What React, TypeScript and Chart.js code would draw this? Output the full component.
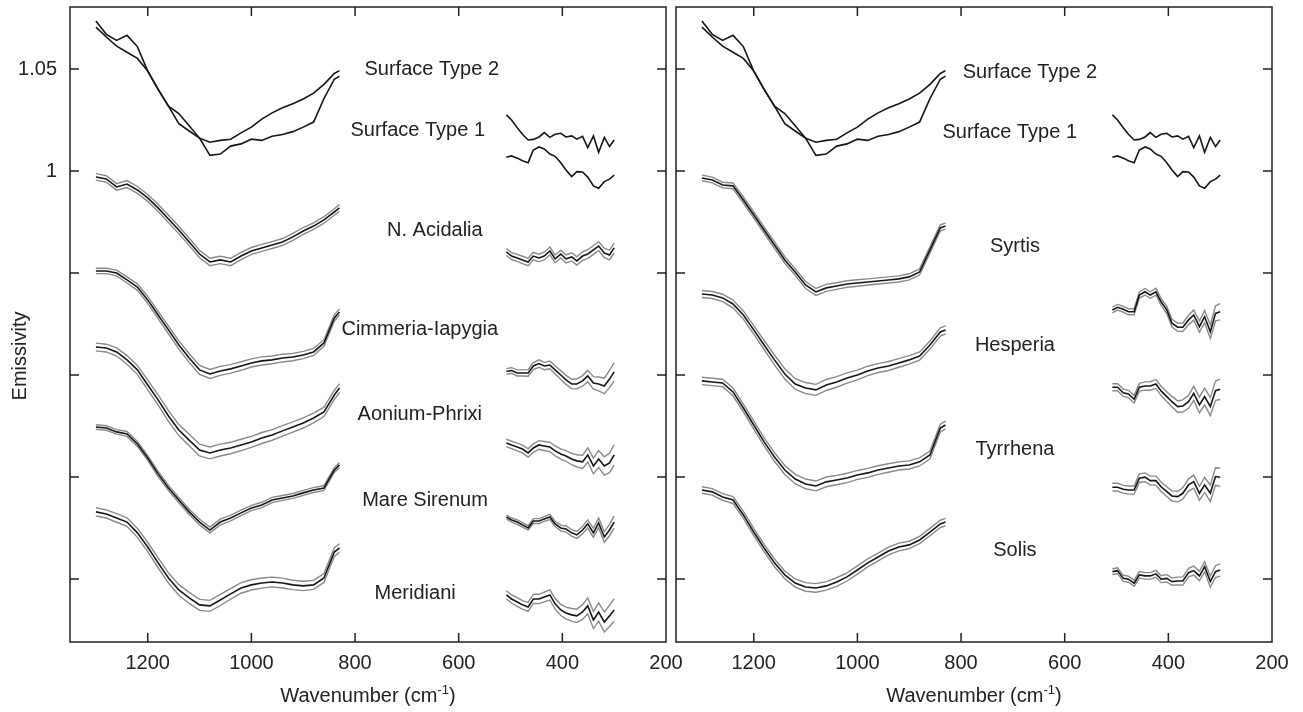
import React, { useEffect, useRef } from "react";
import { Chart, registerables } from "chart.js";

Chart.register(...registerables);

const FONT = '"Liberation Sans", Arial, Helvetica, sans-serif';

// ---- grids (wavenumber, cm-1) ----
const HIGH_WN = [1300, 1280, 1260, 1240, 1220, 1200, 1180, 1160, 1140, 1120, 1100, 1080, 1060, 1040, 1020, 1000, 980, 960, 940, 920, 900, 880, 860, 840, 830];
const LOW_WN = [508, 498, 487, 477, 466, 456, 445, 435, 424, 414, 403, 393, 382, 372, 361, 351, 340, 330, 319, 309, 300];
const GAP_WN = 660;

// ---- axis ticks ----
const X_TICKS = [1200, 1000, 800, 600, 400, 200];
const Y_TICKS = [1.05, 1.0, 0.95, 0.9, 0.85, 0.8];
const Y_TICK_LABELS = ["1.05", "1", "", "", "", ""];
const X_MIN = 200;
const X_MAX = 1350;
const Y_MIN = 0.7691;
const Y_MAX = 1.0804;

// ---- surface types (single spectra) ----
const st2High = [1.0705, 1.0657, 1.0612, 1.0582, 1.0552, 1.049, 1.04, 1.0318, 1.0282, 1.0222, 1.0161, 1.0141, 1.015, 1.0156, 1.0187, 1.0215, 1.0254, 1.0285, 1.031, 1.033, 1.0353, 1.0382, 1.0425, 1.0478, 1.0492];
const st2Low = [1.0275, 1.025, 1.0212, 1.018, 1.0152, 1.0155, 1.0167, 1.0188, 1.0165, 1.018, 1.0185, 1.0167, 1.0172, 1.0156, 1.017, 1.0115, 1.0172, 1.0092, 1.0165, 1.012, 1.0152];
const st1High = [1.0735, 1.067, 1.064, 1.0665, 1.061, 1.049, 1.04, 1.0318, 1.0232, 1.0196, 1.0161, 1.0077, 1.0083, 1.0122, 1.0133, 1.0156, 1.015, 1.017, 1.0179, 1.0193, 1.0215, 1.024, 1.0355, 1.045, 1.0465];
const st1Low = [1.0067, 1.0074, 1.0063, 1.005, 1.0041, 1.0103, 1.0118, 1.0108, 1.0083, 1.0072, 1.004, 1.0005, 0.9973, 0.9997, 0.9995, 0.997, 0.9927, 0.9915, 0.9948, 0.996, 0.998];

// ---- left panel regions: mean spectra and 1-sigma ----
const acidaliaHigh = [0.9971, 0.9961, 0.9922, 0.9936, 0.9907, 0.9868, 0.9819, 0.9765, 0.9711, 0.9652, 0.9593, 0.9554, 0.9564, 0.9554, 0.9583, 0.9608, 0.9623, 0.9637, 0.9652, 0.9677, 0.9706, 0.973, 0.976, 0.9799, 0.9819];
const acidaliaLow = [0.9603, 0.9583, 0.9574, 0.9564, 0.9554, 0.9583, 0.9574, 0.9583, 0.9608, 0.9569, 0.9593, 0.9569, 0.9579, 0.9559, 0.9583, 0.9593, 0.9613, 0.9632, 0.9598, 0.9588, 0.9623];
const acidaliaSdHigh = [0.0016, 0.0016, 0.0016, 0.0017, 0.0017, 0.0017, 0.0018, 0.0018, 0.0018, 0.0018, 0.0018, 0.0018, 0.0018, 0.0018, 0.0018, 0.0017, 0.0017, 0.0017, 0.0017, 0.0017, 0.0017, 0.0016, 0.0016, 0.0016, 0.0016];
const acidaliaSdLow = [0.0017, 0.0017, 0.0017, 0.0018, 0.0018, 0.0018, 0.0018, 0.0019, 0.0019, 0.0019, 0.0019, 0.002, 0.002, 0.002, 0.0021, 0.0021, 0.0022, 0.0022, 0.0023, 0.0024, 0.0024];

const cimmeriaHigh = [0.951, 0.951, 0.95, 0.9466, 0.9431, 0.9368, 0.9294, 0.9221, 0.9147, 0.9083, 0.9025, 0.9005, 0.902, 0.903, 0.9044, 0.9059, 0.9069, 0.9074, 0.9083, 0.9088, 0.9098, 0.9113, 0.9157, 0.928, 0.9309];
const cimmeriaLow = [0.9017, 0.9022, 0.901, 0.901, 0.901, 0.9044, 0.9056, 0.9044, 0.9049, 0.9025, 0.9, 0.8976, 0.8956, 0.8956, 0.8971, 0.8995, 0.8961, 0.8956, 0.8946, 0.898, 0.9015];
const cimmeriaSdHigh = [0.0013, 0.0013, 0.0014, 0.0015, 0.0016, 0.0017, 0.0018, 0.0019, 0.002, 0.0021, 0.0022, 0.0022, 0.0022, 0.0021, 0.0021, 0.002, 0.002, 0.0019, 0.0019, 0.0018, 0.0018, 0.0017, 0.0016, 0.0015, 0.0015];
const cimmeriaSdLow = [0.0014, 0.0014, 0.0015, 0.0015, 0.0016, 0.0017, 0.0018, 0.0018, 0.0019, 0.002, 0.0021, 0.0022, 0.0023, 0.0024, 0.0026, 0.0028, 0.0031, 0.0034, 0.0038, 0.0042, 0.0045];

const aoniumHigh = [0.9137, 0.9132, 0.9113, 0.9074, 0.9025, 0.8951, 0.8878, 0.8799, 0.873, 0.8681, 0.8632, 0.8618, 0.8632, 0.8642, 0.8657, 0.8672, 0.8691, 0.8706, 0.8726, 0.8745, 0.8765, 0.8789, 0.8819, 0.8902, 0.8936];
const aoniumLow = [0.8667, 0.8657, 0.8647, 0.8637, 0.8618, 0.8642, 0.8657, 0.8652, 0.8647, 0.8628, 0.8613, 0.8603, 0.8588, 0.8579, 0.8574, 0.8608, 0.8554, 0.8588, 0.8554, 0.8569, 0.8608];
const aoniumSdHigh = [0.0019, 0.0019, 0.002, 0.0021, 0.0022, 0.0024, 0.0025, 0.0026, 0.0027, 0.0028, 0.0029, 0.0029, 0.0029, 0.0028, 0.0028, 0.0027, 0.0027, 0.0026, 0.0026, 0.0025, 0.0025, 0.0024, 0.0023, 0.0022, 0.0022];
const aoniumSdLow = [0.0018, 0.0018, 0.0019, 0.0019, 0.002, 0.0021, 0.0021, 0.0022, 0.0023, 0.0024, 0.0025, 0.0026, 0.0028, 0.003, 0.0032, 0.0035, 0.0038, 0.0041, 0.0045, 0.0048, 0.005];

const sirenumHigh = [0.8745, 0.874, 0.8721, 0.8711, 0.8662, 0.8593, 0.8515, 0.8446, 0.8387, 0.8329, 0.8279, 0.824, 0.8279, 0.8299, 0.8324, 0.8348, 0.8363, 0.8387, 0.8397, 0.8407, 0.8422, 0.8436, 0.8446, 0.8534, 0.8559];
const sirenumLow = [0.8304, 0.8289, 0.8279, 0.8265, 0.825, 0.8284, 0.8284, 0.8294, 0.8304, 0.827, 0.825, 0.8245, 0.8226, 0.8216, 0.824, 0.827, 0.8226, 0.8275, 0.8206, 0.824, 0.8279];
const sirenumSdHigh = [0.0011, 0.0011, 0.0011, 0.0012, 0.0012, 0.0012, 0.0013, 0.0013, 0.0013, 0.0013, 0.0014, 0.0014, 0.0014, 0.0014, 0.0013, 0.0013, 0.0013, 0.0013, 0.0012, 0.0012, 0.0012, 0.0012, 0.0012, 0.0012, 0.0012];
const sirenumSdLow = [0.001, 0.001, 0.0011, 0.0011, 0.0011, 0.0012, 0.0012, 0.0012, 0.0013, 0.0013, 0.0014, 0.0015, 0.0016, 0.0017, 0.0018, 0.002, 0.0022, 0.0024, 0.0026, 0.0028, 0.003];

const meridianiHigh = [0.8329, 0.8319, 0.8299, 0.8279, 0.8226, 0.8157, 0.8079, 0.8005, 0.7946, 0.7907, 0.7873, 0.7868, 0.7897, 0.7927, 0.7956, 0.7971, 0.798, 0.7985, 0.798, 0.7971, 0.7966, 0.7971, 0.8005, 0.8132, 0.8152];
const meridianiLow = [0.7922, 0.7902, 0.7887, 0.7873, 0.7863, 0.7902, 0.7902, 0.7912, 0.7922, 0.7878, 0.7848, 0.7833, 0.7824, 0.7819, 0.7838, 0.7868, 0.7799, 0.7838, 0.7789, 0.7819, 0.7848];
const meridianiSdHigh = [0.002, 0.002, 0.0021, 0.0021, 0.0022, 0.0023, 0.0024, 0.0025, 0.0026, 0.0027, 0.0027, 0.0027, 0.0027, 0.0026, 0.0026, 0.0025, 0.0025, 0.0024, 0.0024, 0.0023, 0.0023, 0.0022, 0.0022, 0.0021, 0.0021];
const meridianiSdLow = [0.002, 0.002, 0.0021, 0.0021, 0.0022, 0.0022, 0.0023, 0.0024, 0.0025, 0.0026, 0.0027, 0.0029, 0.0031, 0.0033, 0.0036, 0.0039, 0.0042, 0.0045, 0.0049, 0.0052, 0.0055];

// ---- right panel regions ----
const syrtisHigh = [0.9966, 0.9956, 0.9931, 0.9927, 0.9858, 0.9784, 0.9711, 0.9637, 0.9564, 0.9505, 0.9441, 0.9407, 0.9427, 0.9436, 0.9446, 0.9451, 0.9456, 0.9461, 0.9466, 0.9471, 0.9481, 0.9505, 0.9613, 0.9721, 0.973];
const syrtisLow = [0.9319, 0.9332, 0.9322, 0.931, 0.931, 0.9392, 0.9408, 0.9392, 0.9408, 0.9359, 0.9319, 0.9254, 0.9234, 0.9234, 0.927, 0.9294, 0.9237, 0.9286, 0.9212, 0.9302, 0.931];
const syrtisSdHigh = [0.0014, 0.0014, 0.0014, 0.0014, 0.0015, 0.0015, 0.0015, 0.0016, 0.0016, 0.0016, 0.0017, 0.0017, 0.0017, 0.0016, 0.0016, 0.0016, 0.0015, 0.0015, 0.0015, 0.0015, 0.0015, 0.0015, 0.0015, 0.0015, 0.0015];
const syrtisSdLow = [0.0014, 0.0014, 0.0014, 0.0015, 0.0015, 0.0015, 0.0016, 0.0016, 0.0017, 0.0017, 0.0018, 0.0019, 0.002, 0.0021, 0.0023, 0.0025, 0.0027, 0.003, 0.0033, 0.0037, 0.004];

const hesperiaHigh = [0.9397, 0.9392, 0.9378, 0.9348, 0.9294, 0.9221, 0.9147, 0.9074, 0.9005, 0.8956, 0.8936, 0.8927, 0.8951, 0.8966, 0.8985, 0.9, 0.902, 0.9034, 0.9044, 0.9059, 0.9074, 0.9093, 0.9147, 0.9211, 0.9221];
const hesperiaLow = [0.894, 0.894, 0.8913, 0.8907, 0.8881, 0.894, 0.8946, 0.8946, 0.8956, 0.8922, 0.8894, 0.8869, 0.8845, 0.8848, 0.8869, 0.891, 0.8853, 0.8894, 0.8845, 0.8923, 0.893];
const hesperiaSdHigh = [0.0017, 0.0017, 0.0018, 0.0019, 0.002, 0.0021, 0.0022, 0.0024, 0.0025, 0.0026, 0.0027, 0.0027, 0.0027, 0.0026, 0.0025, 0.0024, 0.0023, 0.0022, 0.0022, 0.0021, 0.0021, 0.002, 0.002, 0.002, 0.002];
const hesperiaSdLow = [0.0017, 0.0017, 0.0018, 0.0018, 0.0019, 0.0019, 0.002, 0.0021, 0.0022, 0.0023, 0.0024, 0.0026, 0.0028, 0.003, 0.0032, 0.0035, 0.0038, 0.0041, 0.0044, 0.0047, 0.005];

const tyrrhenaHigh = [0.8971, 0.8966, 0.8961, 0.8917, 0.8838, 0.8755, 0.8672, 0.8598, 0.8534, 0.849, 0.8466, 0.8456, 0.8476, 0.8485, 0.8495, 0.851, 0.852, 0.8534, 0.8544, 0.8554, 0.8559, 0.8574, 0.8608, 0.874, 0.8755];
const tyrrhenaLow = [0.845, 0.845, 0.844, 0.8436, 0.8436, 0.8494, 0.8499, 0.8482, 0.8482, 0.8452, 0.8428, 0.8407, 0.8404, 0.842, 0.8461, 0.8477, 0.842, 0.8461, 0.842, 0.8502, 0.8499];
const tyrrhenaSdHigh = [0.0018, 0.0018, 0.0018, 0.0019, 0.0019, 0.002, 0.002, 0.0021, 0.0022, 0.0023, 0.0024, 0.0024, 0.0024, 0.0023, 0.0023, 0.0022, 0.0022, 0.0021, 0.0021, 0.002, 0.002, 0.002, 0.0019, 0.0019, 0.0019];
const tyrrhenaSdLow = [0.0019, 0.0019, 0.0019, 0.002, 0.002, 0.0021, 0.0021, 0.0022, 0.0022, 0.0023, 0.0024, 0.0025, 0.0026, 0.0028, 0.003, 0.0032, 0.0034, 0.0037, 0.004, 0.0043, 0.0045];

const solisHigh = [0.8436, 0.8427, 0.8402, 0.8387, 0.8314, 0.823, 0.8152, 0.8079, 0.802, 0.798, 0.7961, 0.7956, 0.7966, 0.7985, 0.801, 0.8044, 0.8079, 0.8108, 0.8137, 0.8157, 0.8167, 0.8191, 0.823, 0.827, 0.8279];
const solisLow = [0.8036, 0.8041, 0.8003, 0.7999, 0.7979, 0.802, 0.8015, 0.8015, 0.8025, 0.7999, 0.8003, 0.7987, 0.799, 0.799, 0.8031, 0.8041, 0.8015, 0.806, 0.7987, 0.8036, 0.8044];
const solisSdHigh = [0.0016, 0.0016, 0.0016, 0.0017, 0.0017, 0.0018, 0.0018, 0.0019, 0.0019, 0.002, 0.0021, 0.0021, 0.0021, 0.0021, 0.002, 0.002, 0.002, 0.0019, 0.0019, 0.0019, 0.0018, 0.0018, 0.0018, 0.0018, 0.0018];
const solisSdLow = [0.0014, 0.0014, 0.0015, 0.0015, 0.0015, 0.0016, 0.0016, 0.0016, 0.0017, 0.0017, 0.0018, 0.0018, 0.0019, 0.002, 0.0021, 0.0022, 0.0023, 0.0025, 0.0027, 0.0029, 0.003];

// ---- annotation text ----
const SURFACE_NAMES = ["Surface Type 2", "Surface Type 1"];
const LEFT_NAMES = ["N. Acidalia", "Cimmeria-Iapygia", "Aonium-Phrixi", "Mare Sirenum", "Meridiani"];
const RIGHT_NAMES = ["Syrtis", "Hesperia", "Tyrrhena", "Solis"];

// label anchor points in data coordinates (wavenumber, emissivity)
const LEFT_LABEL_WN = [652, 679, 646, 675, 675, 665, 684];
const LEFT_LABEL_E = [1.05, 1.0201, 0.9706, 0.9221, 0.8804, 0.8387, 0.7931];
const RIGHT_LABEL_WN = [667, 706, 696, 696, 696, 696];
const RIGHT_LABEL_E = [1.0485, 1.0191, 0.9632, 0.9147, 0.8637, 0.8142];

type Region = { high: number[]; low: number[]; sdHigh: number[]; sdLow: number[] };

const LEFT_REGIONS: Region[] = [
  { high: acidaliaHigh, low: acidaliaLow, sdHigh: acidaliaSdHigh, sdLow: acidaliaSdLow },
  { high: cimmeriaHigh, low: cimmeriaLow, sdHigh: cimmeriaSdHigh, sdLow: cimmeriaSdLow },
  { high: aoniumHigh, low: aoniumLow, sdHigh: aoniumSdHigh, sdLow: aoniumSdLow },
  { high: sirenumHigh, low: sirenumLow, sdHigh: sirenumSdHigh, sdLow: sirenumSdLow },
  { high: meridianiHigh, low: meridianiLow, sdHigh: meridianiSdHigh, sdLow: meridianiSdLow },
];
const RIGHT_REGIONS: Region[] = [
  { high: syrtisHigh, low: syrtisLow, sdHigh: syrtisSdHigh, sdLow: syrtisSdLow },
  { high: hesperiaHigh, low: hesperiaLow, sdHigh: hesperiaSdHigh, sdLow: hesperiaSdLow },
  { high: tyrrhenaHigh, low: tyrrhenaLow, sdHigh: tyrrhenaSdHigh, sdLow: tyrrhenaSdLow },
  { high: solisHigh, low: solisLow, sdHigh: solisSdHigh, sdLow: solisSdLow },
];

const BLACK = "#161616";
const GRAY = "#8a8a8a";
const AXIS = "#222222";

function points(high: number[], low: number[], sdH: number[] | null, sdL: number[] | null, sign: number) {
  const pts: { x: number; y: number | null }[] = [];
  HIGH_WN.forEach((x, i) => pts.push({ x, y: high[i] + (sdH ? sign * sdH[i] : 0) }));
  pts.push({ x: GAP_WN, y: null });
  LOW_WN.forEach((x, i) => pts.push({ x, y: low[i] + (sdL ? sign * sdL[i] : 0) }));
  return pts;
}

function buildDatasets(regions: Region[]) {
  const ds: any[] = [];
  const base = { showLine: true, pointRadius: 0, spanGaps: false, tension: 0, fill: false };
  ds.push({ ...base, data: points(st2High, st2Low, null, null, 0), borderColor: BLACK, borderWidth: 1.6, order: 0 });
  ds.push({ ...base, data: points(st1High, st1Low, null, null, 0), borderColor: BLACK, borderWidth: 1.6, order: 0 });
  regions.forEach((r) => {
    ds.push({ ...base, data: points(r.high, r.low, null, null, 0), borderColor: BLACK, borderWidth: 1.6, order: 0 });
    ds.push({ ...base, data: points(r.high, r.low, r.sdHigh, r.sdLow, 1), borderColor: GRAY, borderWidth: 1.4, order: 1 });
    ds.push({ ...base, data: points(r.high, r.low, r.sdHigh, r.sdLow, -1), borderColor: GRAY, borderWidth: 1.4, order: 1 });
  });
  return ds;
}

const framePlugin = {
  id: "frame",
  afterDatasetsDraw(chart: any, _args: any, opts: any) {
    const { ctx, chartArea } = chart;
    const { left, right, top, bottom } = chartArea;
    const xs = chart.scales.x;
    const ys = chart.scales.y;
    ctx.save();
    ctx.strokeStyle = AXIS;
    ctx.lineWidth = 1.5;
    ctx.strokeRect(left, top, right - left, bottom - top);
    const TL = 9;
    ctx.beginPath();
    X_TICKS.forEach((v) => {
      const px = xs.getPixelForValue(v);
      if (px <= left + 1 || px >= right - 1) return;
      ctx.moveTo(px, bottom);
      ctx.lineTo(px, bottom - TL);
      ctx.moveTo(px, top);
      ctx.lineTo(px, top + TL);
    });
    Y_TICKS.forEach((v) => {
      const py = ys.getPixelForValue(v);
      ctx.moveTo(left, py);
      ctx.lineTo(left + TL, py);
      ctx.moveTo(right, py);
      ctx.lineTo(right - TL, py);
    });
    ctx.stroke();

    // curve labels
    ctx.fillStyle = AXIS;
    ctx.font = `20px ${FONT}`;
    ctx.textAlign = "center";
    ctx.textBaseline = "middle";
    const names: string[] = opts.names || [];
    const wn: number[] = opts.labelWn || [];
    const em: number[] = opts.labelE || [];
    names.forEach((n, i) => {
      ctx.fillText(n, xs.getPixelForValue(wn[i]), ys.getPixelForValue(em[i]));
    });

    // x title with superscript
    const cx = (left + right) / 2;
    const ty = 695;
    const main = "Wavenumber (cm";
    const sup = "-1";
    const close = ")";
    ctx.font = `20px ${FONT}`;
    const w1 = ctx.measureText(main).width;
    const w3 = ctx.measureText(close).width;
    ctx.font = `13px ${FONT}`;
    const w2 = ctx.measureText(sup).width;
    const total = w1 + w2 + w3;
    const x0 = cx - total / 2;
    ctx.textAlign = "left";
    ctx.textBaseline = "alphabetic";
    ctx.font = `20px ${FONT}`;
    ctx.fillText(main, x0, ty + 7);
    ctx.font = `13px ${FONT}`;
    ctx.fillText(sup, x0 + w1, ty - 1);
    ctx.font = `20px ${FONT}`;
    ctx.fillText(close, x0 + w1 + w2, ty + 7);

    if (opts.yTitle) {
      ctx.translate(20, 356);
      ctx.rotate(-Math.PI / 2);
      ctx.textAlign = "center";
      ctx.textBaseline = "middle";
      ctx.font = `20px ${FONT}`;
      ctx.fillText(opts.yTitle, 0, 0);
    }
    ctx.restore();
  },
};

function zeroPad(s: any) {
  s.paddingTop = 0;
  s.paddingBottom = 0;
  s.paddingLeft = 0;
  s.paddingRight = 0;
}

function Panel(props: { left: number; regions: Region[]; names: string[]; labelWn: number[]; labelE: number[]; yLabels: boolean; yTitle: string }) {
  const ref = useRef<HTMLCanvasElement>(null);
  useEffect(() => {
    const canvas = ref.current!;
    const chart = new Chart(canvas, {
      type: "scatter",
      data: { datasets: buildDatasets(props.regions) },
      plugins: [framePlugin],
      options: {
        animation: false,
        responsive: false,
        devicePixelRatio: 1,
        layout: { padding: { top: 7, right: 31, left: 0, bottom: 0 } },
        plugins: {
          legend: { display: false },
          tooltip: { enabled: false },
          frame: { names: props.names, labelWn: props.labelWn, labelE: props.labelE, yTitle: props.yTitle },
        } as any,
        scales: {
          x: {
            type: "linear",
            min: X_MIN,
            max: X_MAX,
            reverse: true,
            afterBuildTicks: (s: any) => {
              s.ticks = X_TICKS.map((v) => ({ value: v }));
            },
            afterFit: (s: any) => {
              s.height = 70;
              zeroPad(s);
            },
            grid: { display: false, drawTicks: false },
            border: { display: false },
            ticks: {
              padding: 9,
              color: AXIS,
              font: { family: FONT, size: 20 },
              maxRotation: 0,
              autoSkip: false,
              callback: (v: any) => String(v),
            },
          },
          y: {
            type: "linear",
            min: Y_MIN,
            max: Y_MAX,
            afterBuildTicks: (s: any) => {
              s.ticks = Y_TICKS.map((v) => ({ value: v }));
            },
            afterFit: (s: any) => {
              s.width = 70;
              zeroPad(s);
            },
            grid: { display: false, drawTicks: false },
            border: { display: false },
            ticks: {
              padding: 13,
              color: AXIS,
              font: { family: FONT, size: 20 },
              autoSkip: false,
              callback: (v: any) => {
                if (!props.yLabels) return "";
                const i = Y_TICKS.findIndex((t) => Math.abs(t - v) < 1e-6);
                return i >= 0 ? Y_TICK_LABELS[i] : "";
              },
            },
          },
        },
      } as any,
    });
    return () => chart.destroy();
  }, []);
  return (
    <canvas
      ref={ref}
      width={697}
      height={712}
      style={{ position: "absolute", left: props.left, top: 0, width: 697, height: 712 }}
    />
  );
}

export default function App() {
  return (
    <div style={{ position: "fixed", left: 0, top: 0, width: 1303, height: 712, background: "#ffffff", overflow: "hidden" }}>
      <Panel
        left={0}
        regions={LEFT_REGIONS}
        names={[...SURFACE_NAMES, ...LEFT_NAMES]}
        labelWn={LEFT_LABEL_WN}
        labelE={LEFT_LABEL_E}
        yLabels={true}
        yTitle="Emissivity"
      />
      <Panel
        left={606}
        regions={RIGHT_REGIONS}
        names={[...SURFACE_NAMES, ...RIGHT_NAMES]}
        labelWn={RIGHT_LABEL_WN}
        labelE={RIGHT_LABEL_E}
        yLabels={false}
        yTitle=""
      />
    </div>
  );
}
